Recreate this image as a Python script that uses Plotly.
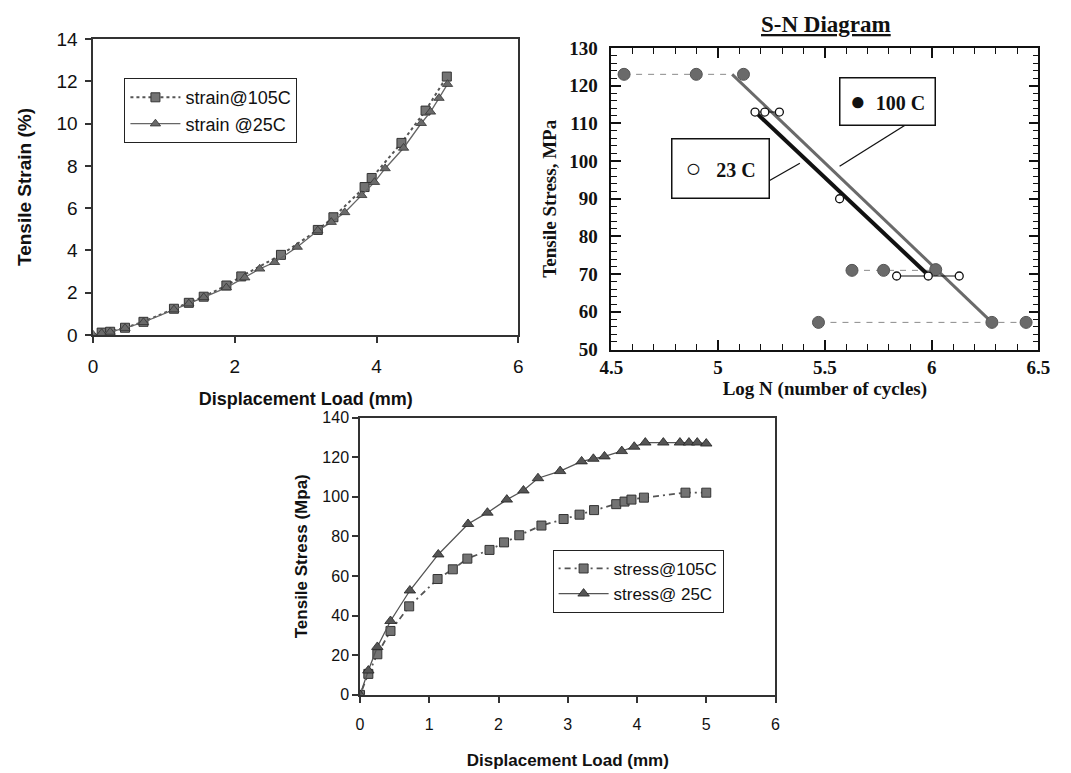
import plotly.graph_objects as go

# ---------------- Chart 1: strain vs displacement ----------------
strain105_x = [0.12, 0.24, 0.45, 0.71, 1.14, 1.35, 1.56, 1.88, 2.09, 2.65, 3.17, 3.39, 3.83, 3.93, 4.35, 4.69, 4.99]
strain105_y = [0.11, 0.15, 0.34, 0.62, 1.24, 1.52, 1.81, 2.34, 2.77, 3.79, 4.97, 5.57, 7.00, 7.43, 9.09, 10.62, 12.23]
strain25_x = [0, 0.12, 0.24, 0.45, 0.71, 1.14, 1.35, 1.56, 1.88, 2.14, 2.35, 2.56, 2.88, 3.17, 3.36, 3.55,
              3.79, 3.97, 4.12, 4.38, 4.63, 4.76, 4.88, 5.00]
strain25_y = [0, 0.08, 0.14, 0.32, 0.60, 1.20, 1.48, 1.78, 2.24, 2.71, 3.13, 3.44, 4.16, 4.94, 5.34, 5.80,
              6.61, 7.23, 7.88, 8.85, 10.02, 10.56, 11.21, 11.87]

# ---------------- Chart 2: S-N diagram ----------------
sn100_x = [4.56, 4.898, 5.119, 5.627, 5.775, 6.019, 5.470, 6.282, 6.442]
sn100_y = [123.0, 123.0, 123.0, 71.0, 71.0, 71.2, 57.2, 57.2, 57.2]
sn100_run_top_x = [4.56, 5.066]
sn100_run_top_y = [123.0, 123.0]
sn100_run_mid_x = [5.627, 6.019]
sn100_run_mid_y = [71.0, 71.0]
sn100_run_low_x = [5.470, 6.442]
sn100_run_low_y = [57.2, 57.2]
sn23_top_x = [5.173, 5.219, 5.287]
sn23_top_y = [113.0, 113.0, 113.0]
sn23_mid_x = [5.569]
sn23_mid_y = [90.0]
sn23_low_x = [5.836, 5.984, 6.129]
sn23_low_y = [69.5, 69.5, 69.5]
fit100_x = [5.066, 6.282]
fit100_y = [123.0, 57.2]
fit23_x = [5.18, 5.981]
fit23_y = [112.7, 69.9]

# ---------------- Chart 3: stress vs displacement ----------------
stress105_x = [0, 0.12, 0.25, 0.44, 0.71, 1.12, 1.34, 1.55, 1.87, 2.08, 2.30, 2.62, 2.94, 3.17, 3.38,
               3.70, 3.82, 3.92, 4.10, 4.70, 5.00]
stress105_y = [0, 10.6, 20.5, 32.3, 44.7, 58.5, 63.4, 68.8, 73.2, 77.0, 80.6, 85.5, 88.8, 91.0, 93.3,
               96.3, 97.6, 98.6, 99.6, 102.1, 102.1]
stress25_x = [0, 0.12, 0.25, 0.44, 0.72, 1.13, 1.56, 1.84, 2.12, 2.36, 2.57, 2.89, 3.20, 3.37, 3.53,
              3.78, 3.96, 4.12, 4.38, 4.62, 4.75, 4.87, 5.00]
stress25_y = [0, 12.3, 24.2, 37.3, 52.7, 70.9, 86.3, 92.0, 98.6, 103.2, 109.4, 113.0, 117.9, 119.2, 120.4,
              123.1, 125.3, 127.4, 127.4, 127.4, 127.4, 127.4, 126.9]

SANS = "Liberation Sans, Arial, sans-serif"
SERIF = "Liberation Serif, Times New Roman, serif"
W, H = 1071, 773

fig = go.Figure()

# chart 1
fig.add_trace(go.Scatter(x=strain105_x, y=strain105_y, mode="lines+markers", name="strain@105C",
                         line=dict(color="#555", width=2, dash="dot"),
                         marker=dict(symbol="square", size=9, color="#737373", line=dict(color="#333", width=1)),
                         xaxis="x", yaxis="y", legend="legend"))
fig.add_trace(go.Scatter(x=strain25_x, y=strain25_y, mode="lines+markers", name="strain @25C",
                         line=dict(color="#666", width=1.3),
                         marker=dict(symbol="triangle-up", size=9, color="#6a6a6a", line=dict(color="#333", width=0.8)),
                         xaxis="x", yaxis="y", legend="legend"))

# chart 2
dash_style = dict(color="#8a8a8a", width=1, dash="6px,6px")
for rx, ry in [(sn100_run_top_x, sn100_run_top_y), (sn100_run_mid_x, sn100_run_mid_y), (sn100_run_low_x, sn100_run_low_y)]:
    fig.add_trace(go.Scatter(x=rx, y=ry, mode="lines", line=dash_style, showlegend=False,
                             xaxis="x2", yaxis="y2", hoverinfo="skip"))
fig.add_trace(go.Scatter(x=fit100_x, y=fit100_y, mode="lines", line=dict(color="#6a6a6a", width=3),
                         showlegend=False, xaxis="x2", yaxis="y2"))
fig.add_trace(go.Scatter(x=fit23_x, y=fit23_y, mode="lines", line=dict(color="#111", width=4),
                         showlegend=False, xaxis="x2", yaxis="y2"))
fig.add_trace(go.Scatter(x=sn100_x, y=sn100_y, mode="markers",
                         marker=dict(symbol="circle", size=12, color="#6a6a6a", line=dict(color="#555", width=1)),
                         showlegend=False, xaxis="x2", yaxis="y2"))
for ox, oy in [(sn23_top_x, sn23_top_y), (sn23_mid_x, sn23_mid_y), (sn23_low_x, sn23_low_y)]:
    fig.add_trace(go.Scatter(x=ox, y=oy, mode="lines+markers", line=dict(color="#111", width=1),
                             marker=dict(symbol="circle", size=8, color="white", line=dict(color="#111", width=1.3)),
                             showlegend=False, xaxis="x2", yaxis="y2"))

# chart 3
fig.add_trace(go.Scatter(x=stress105_x, y=stress105_y, mode="lines+markers", name="stress@105C",
                         line=dict(color="#555", width=1.8, dash="2px,4px,6px,4px"),
                         marker=dict(symbol="square", size=9, color="#737373", line=dict(color="#333", width=1)),
                         xaxis="x3", yaxis="y3", legend="legend2"))
fig.add_trace(go.Scatter(x=stress25_x, y=stress25_y, mode="lines+markers", name="stress@ 25C",
                         line=dict(color="#555", width=1.3),
                         marker=dict(symbol="triangle-up", size=10, color="#555", line=dict(color="#222", width=0.8)),
                         xaxis="x3", yaxis="y3", legend="legend2"))

def px_x(p):
    return p / W

def px_y(p):
    return 1 - p / H

excel_axis = dict(showgrid=False, zeroline=False, showline=True, linecolor="#333", linewidth=1.5,
                  mirror=True, ticks="outside", ticklen=6, tickcolor="#333", tickwidth=1.5)

sn_axis = dict(showgrid=False, zeroline=False, showline=True, linecolor="#111", linewidth=1.5,
               mirror="allticks", ticks="inside", ticklen=10, tickcolor="#111", tickwidth=1.5,
               tickfont=dict(family=SERIF, size=19, color="#111", weight="bold"))

fig.update_layout(
    width=W, height=H, margin=dict(l=0, r=0, t=0, b=0),
    paper_bgcolor="white", plot_bgcolor="white",
    xaxis=dict(excel_axis, domain=[px_x(83), px_x(518)], range=[0, 6], dtick=2, tick0=0, anchor="y",
               tickfont=dict(family=SANS, size=19, color="#111"), ticklabelstandoff=8,
               title=dict(text="<b>Displacement Load (mm)</b>", font=dict(family=SANS, size=18, color="#111"), standoff=16)),
    yaxis=dict(excel_axis, domain=[px_y(334), px_y(30)], range=[0, 14], dtick=2, tick0=0, anchor="x",
               tickfont=dict(family=SANS, size=19, color="#111"), ticklabelstandoff=4,
               title=dict(text="<b>Tensile Strain (%)</b>", font=dict(family=SANS, size=19, color="#111"), standoff=20)),
    xaxis2=dict(sn_axis, domain=[px_x(613), px_x(1050)], range=[4.5, 6.5], dtick=0.5, tick0=4.5, anchor="y2",
                minor=dict(dtick=0.1, tick0=4.5, ticks="inside", ticklen=6, tickcolor="#111", tickwidth=1.2),
                title=dict(text="<b>Log N (number of cycles)</b>", font=dict(family=SERIF, size=19, color="#111"), standoff=2)),
    yaxis2=dict(sn_axis, domain=[px_y(349), px_y(39)], range=[50, 130], dtick=10, tick0=50, anchor="x2",
                minor=dict(dtick=2, tick0=50, ticks="inside", ticklen=6, tickcolor="#111", tickwidth=1.2),
                ticklabelstandoff=8,
                title=dict(text="<b>Tensile Stress, MPa</b>", font=dict(family=SERIF, size=19, color="#111"), standoff=8)),
    xaxis3=dict(excel_axis, domain=[px_x(356), px_x(781)], range=[0, 6], dtick=1, tick0=0, anchor="y3",
                tickfont=dict(family=SANS, size=16, color="#111"), ticklabelstandoff=8,
                title=dict(text="<b>Displacement Load (mm)</b>", font=dict(family=SANS, size=17, color="#111"), standoff=22)),
    yaxis3=dict(excel_axis, domain=[px_y(704), px_y(419)], range=[0, 140], dtick=20, tick0=0, anchor="x3",
                tickfont=dict(family=SANS, size=16, color="#111"),
                title=dict(text="<b>Tensile Stress (Mpa)</b>", font=dict(family=SANS, size=17, color="#111"), standoff=10)),
    legend=dict(x=px_x(115), y=px_y(70), xanchor="left", yanchor="top", bgcolor="white",
                bordercolor="#222", borderwidth=1, font=dict(family=SANS, size=18, color="#111"),
                tracegroupgap=0, itemwidth=50),
    legend2=dict(x=px_x(553), y=px_y(555), xanchor="left", yanchor="top", bgcolor="white",
                 bordercolor="#222", borderwidth=1, font=dict(family=SANS, size=17, color="#111"),
                 tracegroupgap=0, itemwidth=50),
)

# S-N title
fig.add_annotation(x=px_x(833), y=px_y(15), xref="paper", yref="paper", showarrow=False,
                   xanchor="center", yanchor="middle",
                   text="<b><u>S-N Diagram</u></b>", font=dict(family=SERIF, size=23, color="#111"))

# S-N label boxes
fig.add_annotation(x=5.792, y=115.75, xref="x2", yref="y2", showarrow=False, width=92, height=44,
                   bordercolor="#111", borderwidth=1.5, bgcolor="white", align="center",
                   text='<span style="font-size:26px">●</span>  <b>100 C</b>',
                   font=dict(family=SERIF, size=20, color="#111"))
fig.add_annotation(x=5.01, y=98.05, xref="x2", yref="y2", showarrow=False, width=94, height=56,
                   bordercolor="#111", borderwidth=1.5, bgcolor="white", align="center",
                   text='<span style="font-size:26px">○</span>   <b>23 C</b>',
                   font=dict(family=SERIF, size=20, color="#111"))
fig.add_shape(type="line", xref="x2", yref="y2", x0=5.875, y0=109.5, x1=5.569, y1=98.6,
              line=dict(color="#111", width=1.3))
fig.add_shape(type="line", xref="x2", yref="y2", x0=5.231, y0=94.5, x1=5.383, y1=99.4,
              line=dict(color="#111", width=1.3))

fig.write_html("out.html")
